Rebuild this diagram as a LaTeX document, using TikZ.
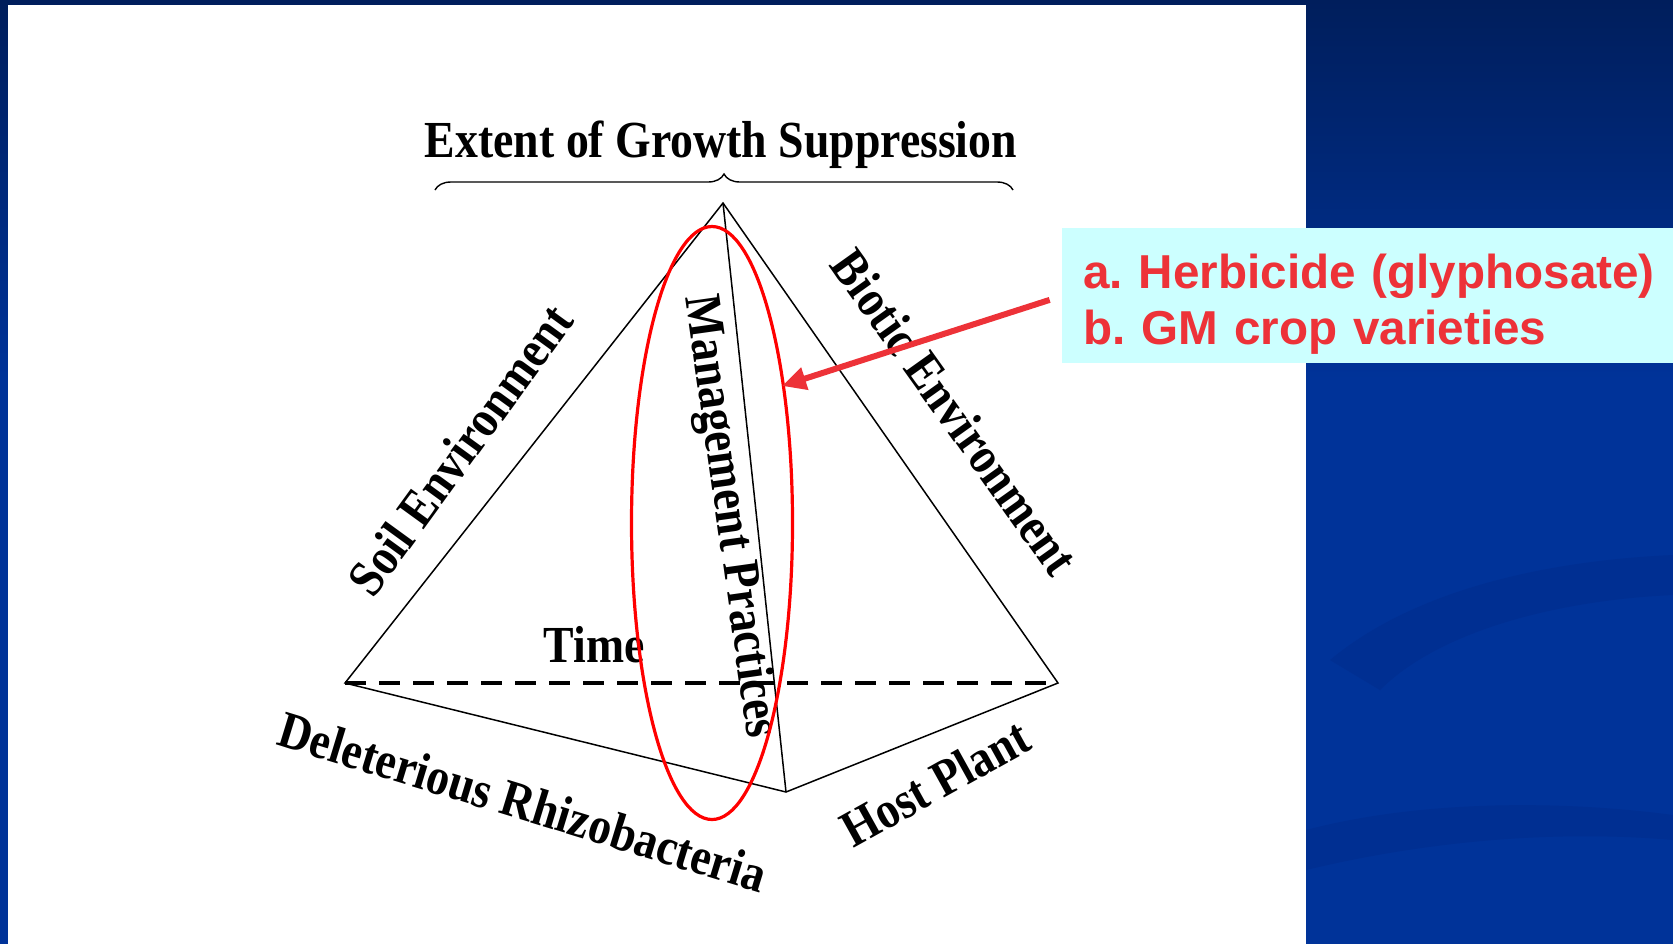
\documentclass[tikz,border=0pt]{standalone}
\usepackage{fontspec}
\newfontfamily\diagfont{Liberation Serif Bold}[FakeStretch=0.88]
\newfontfamily\calloutfont{Liberation Sans Bold}
\usetikzlibrary{arrows.meta, decorations.pathreplacing, shapes.geometric}
\definecolor{SlideBlue}{RGB}{0, 51, 153}
\definecolor{SlideNavy}{RGB}{0, 30, 92}
\definecolor{SwirlBlue}{RGB}{0, 47, 146}
\definecolor{NoteRed}{RGB}{237, 50, 56}
\definecolor{NoteCyan}{RGB}{204, 255, 255}
\tikzset{
    pyramidedge/.style={
        draw=black,
        line width=0.75pt,
        line join=miter
    },
    hiddenedge/.style={
        draw=black,
        line width=2pt,
        dash pattern=on 10.5pt off 6.5pt
    },
    facelabel/.style={
        font=\diagfont\fontsize{26}{28}\selectfont,
        inner sep=0pt
    },
    ringmark/.style={
        ellipse,
        draw=red,
        line width=1.6pt,
        inner sep=0pt
    },
    % Callout Styles
    notebox/.style={
        rectangle,
        fill=NoteCyan,
        text=NoteRed,
        anchor=north west,
        align=left,
        font=\calloutfont\fontsize{23.8}{28}\selectfont\frenchspacing,
        text width=290pt,
        inner xsep=10.5pt,
        minimum height=67.5pt
    },
    notearrow/.style={
        -{Triangle[length=12pt, width=11pt]},
        draw=NoteRed,
        line width=3pt
    },
}

\begin{document}
\begin{tikzpicture}[x=0.5pt, y=-0.5pt]
    \useasboundingbox (0,0) rectangle (1673,944);
    % slide background
    \fill[SlideBlue] (0,0) rectangle (1673,944);
    \shade[top color=SlideNavy, bottom color=SlideBlue] (0,0) rectangle (1673,380);
    \fill[SwirlBlue] (1330,660) .. controls (1420,585) and (1560,560) .. (1673,555)
        -- (1673,595) .. controls (1560,600) and (1440,630) .. (1380,690) -- cycle;
    \fill[SwirlBlue] (1306,830) .. controls (1420,800) and (1560,800) .. (1673,815)
        -- (1673,840) .. controls (1560,830) and (1430,840) .. (1306,870) -- cycle;
    \fill[white] (8,5) rectangle (1306,944);

    \coordinate (apex) at (723,203);
    \coordinate (left) at (345,683);
    \coordinate (right) at (1058,683);
    \coordinate (front) at (786,792);
    \coordinate (brace l) at (435,190);
    \coordinate (brace r) at (1013,190);

    \draw[hiddenedge] (left) -- (right);
    \draw[pyramidedge] (left) -- (apex) -- (right) -- (front) -- cycle;
    \draw[pyramidedge] (apex) -- (front);
    \draw[decorate, decoration={brace, amplitude=8pt}, line width=0.7pt] (brace l) -- (brace r);

    \node[facelabel] (title) at (721,145) {Extent of Growth Suppression};
    \node[facelabel, rotate=54] (soil) at (460,450) {Soil Environment};
    \node[facelabel, rotate=-54.5] (biotic) at (955,412) {Biotic Environment};
    \node[facelabel, rotate=-82] (mgmt) at (729,517) {Management Practices};
    \node[facelabel] (time) at (594,645) {Time};
    \node[facelabel, rotate=-17] (dr) at (523,802) {Deleterious Rhizobacteria};
    \node[facelabel, rotate=29] (host) at (935,783) {Host Plant};

    \node[ringmark, minimum width=80.5pt, minimum height=296.5pt] (ring) at (712,523) {};

    \node[notebox] (note) at (1062,228) {\rule{0pt}{26pt}a. Herbicide (glyphosate)\\b. GM crop varieties};
    \coordinate (target) at (782,386);
    \draw[notearrow, shorten <=6.5pt] (note.west) -- (target);
\end{tikzpicture}
\end{document}
